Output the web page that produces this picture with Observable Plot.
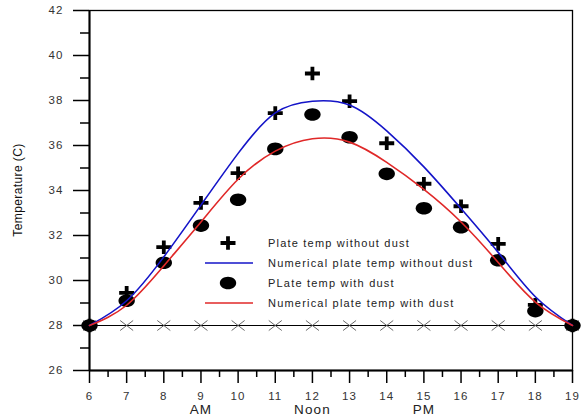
<!DOCTYPE html>
<html><head><meta charset="utf-8">
<script src="https://cdn.jsdelivr.net/npm/d3@7"></script>
<script src="https://cdn.jsdelivr.net/npm/@observablehq/plot@0.6"></script>
<style>
body{margin:0;background:#fff;}
#wrap{position:relative;width:584px;height:419px;font-family:"Liberation Sans",Arial,sans-serif;background:#fff;}
#wrap svg text{letter-spacing:1.1px;}
#ylab{position:absolute;left:18px;top:190px;transform:translate(-50%,-50%) rotate(-90deg);font-size:12px;letter-spacing:0.4px;white-space:nowrap;color:#111;}
#legend{position:absolute;left:205px;top:233px;font-size:11px;letter-spacing:1.2px;color:#222;}
#legend .row{display:flex;align-items:center;height:20px;}
#legend svg{width:48px;height:20px;margin-right:15px;flex:none;}
</style></head><body>
<div id="wrap"></div>
<script>
// ---- data ----
const hours = [6, 7, 8, 9, 10, 11, 12, 13, 14, 15, 16, 17, 18, 19];
const plateNoDust = [28, 29.45, 31.48, 33.45, 34.77, 37.44, 39.2, 37.97, 36.1, 34.3, 33.3, 31.63, 28.92, 28];
const plateDust   = [28, 29.1, 30.79, 32.44, 33.59, 35.85, 37.38, 36.37, 34.74, 33.21, 32.37, 30.9, 28.64, 28];
const numNoDust   = [28, 29.1, 31.05, 33.35, 35.65, 37.45, 37.97, 37.8, 36.65, 35.05, 33.2, 31.25, 29.28, 28];
const numDust     = [28, 28.9, 30.65, 32.6, 34.5, 35.75, 36.3, 36.15, 35.25, 34.05, 32.6, 30.8, 29.04, 28];
const ambient     = [28, 28, 28, 28, 28, 28, 28, 28, 28, 28, 28, 28, 28, 28];
const yTicks = [26, 28, 30, 32, 34, 36, 38, 40, 42];
const yMinor = [27, 29, 31, 33, 35, 37, 39, 41];
const xMinor = [6.5, 7.5, 8.5, 9.5, 10.5, 11.5, 12.5, 13.5, 14.5, 15.5, 16.5, 17.5, 18.5];
const periodTicks = [9, 12, 15];
const periodLabels = ["AM", "Noon", "PM"];
const seriesNames = ["Plate temp without dust", "Numerical plate temp without dust", "PLate temp with dust", "Numerical plate temp with dust"];
const yTitle = "Temperature (C)";

// ---- symbols ----
const plusSym = {draw(c){const a=7.5,b=6.8,t=1.9;
  c.moveTo(-a,-t);c.lineTo(-t,-t);c.lineTo(-t,-b);c.lineTo(t,-b);c.lineTo(t,-t);c.lineTo(a,-t);
  c.lineTo(a,t);c.lineTo(t,t);c.lineTo(t,b);c.lineTo(-t,b);c.lineTo(-t,t);c.lineTo(-a,t);c.closePath();}};
const ellSym = {draw(c){const rx=8.2,ry=6.3,k=0.5523;
  c.moveTo(rx,0);c.bezierCurveTo(rx,k*ry,k*rx,ry,0,ry);c.bezierCurveTo(-k*rx,ry,-rx,k*ry,-rx,0);
  c.bezierCurveTo(-rx,-k*ry,-k*rx,-ry,0,-ry);c.bezierCurveTo(k*rx,-ry,rx,-k*ry,rx,0);c.closePath();}};
const xSym = {draw(c){const a=6.5,b=5;c.moveTo(-a,-b);c.lineTo(a,b);c.moveTo(-a,b);c.lineTo(a,-b);}};

const blue = "#1414c8", red = "#e02828";
const idx = hours.map((d,i)=>i);

const chart = Plot.plot({
  width: 584, height: 419,
  marginLeft: 89, marginRight: 12, marginTop: 10, marginBottom: 49,
  x: {domain: [6, 19]},
  y: {domain: [26, 42]},
  style: {fontFamily: '"Liberation Sans", Arial, sans-serif', fontSize: "11.5px", background: "transparent", color: "#000"},
  marks: [
    Plot.frame({stroke: "#000", strokeWidth: 1.3}),
    Plot.axisY(yTicks, {tickSize: 16, tickPadding: 10, label: null, stroke: "#000", strokeWidth: 1.5, fill: "#333"}),
    Plot.axisY(yMinor, {tickSize: 9, label: null, stroke: "#000", strokeWidth: 1.5, fill: "none"}),
    Plot.axisX(hours, {tickSize: 13, tickPadding: 8, label: null, stroke: "#000", strokeWidth: 1.5, fill: "#333"}),
    Plot.axisX(xMinor, {tickSize: 7, label: null, stroke: "#000", strokeWidth: 1.5, fill: "none"}),
    Plot.axisX(periodTicks, {tickSize: 0, tickPadding: 34, label: null, fill: "#222", fontSize: 13.5, tickFormat: d => periodLabels[periodTicks.indexOf(d)]}),
    Plot.ruleX([6], {stroke: "#000", strokeWidth: 2}),
    Plot.ruleY([26], {stroke: "#000", strokeWidth: 2}),
    Plot.line(idx, {x: i => hours[i], y: i => ambient[i], stroke: "#000", strokeWidth: 1.2}),
    Plot.dot(idx, {x: i => hours[i], y: i => ambient[i], symbol: xSym, stroke: "#555", strokeWidth: 0.9, fill: "none"}),
    Plot.dot(idx, {x: i => hours[i], y: i => plateNoDust[i], symbol: plusSym, fill: "#000", stroke: "none"}),
    Plot.dot(idx, {x: i => hours[i], y: i => plateDust[i], symbol: ellSym, fill: "#000", stroke: "none"}),
    Plot.line(idx, {x: i => hours[i], y: i => numNoDust[i], stroke: blue, strokeWidth: 1.6, curve: "natural"}),
    Plot.line(idx, {x: i => hours[i], y: i => numDust[i], stroke: red, strokeWidth: 1.6, curve: "natural"})
  ]
});
const wrap = document.getElementById("wrap");
wrap.appendChild(chart);

const yl = document.createElement("div");
yl.id = "ylab"; yl.textContent = yTitle; wrap.appendChild(yl);

const lg = document.createElement("div");
lg.id = "legend";
const swatches = [
  `<svg viewBox="0 0 48 20"><path transform="translate(23,10)" d="${d3.symbol(plusSym)()}" fill="#000"/></svg>`,
  `<svg viewBox="0 0 48 20"><line x1="0" x2="48" y1="10" y2="10" stroke="${blue}" stroke-width="1.6"/></svg>`,
  `<svg viewBox="0 0 48 20"><path transform="translate(23,10)" d="${d3.symbol(ellSym)()}" fill="#000"/></svg>`,
  `<svg viewBox="0 0 48 20"><line x1="0" x2="48" y1="10" y2="10" stroke="${red}" stroke-width="1.6"/></svg>`
];
seriesNames.forEach((name, i) => {
  const r = document.createElement("div");
  r.className = "row";
  r.innerHTML = swatches[i] + `<span>${name}</span>`;
  lg.appendChild(r);
});
wrap.appendChild(lg);
</script>
</body></html>
